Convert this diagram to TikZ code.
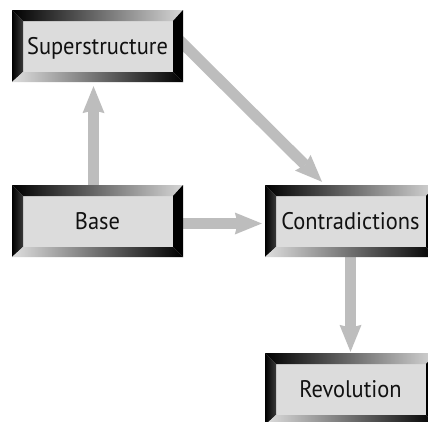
\documentclass[tikz,border=0pt]{standalone}
\usepackage{fontspec}
\newfontfamily\labelfont[FakeStretch=0.935]{PT Sans}
\usetikzlibrary{arrows.meta,calc,backgrounds}

\definecolor{boxface}{HTML}{DCDCDC}
\definecolor{flowgray}{HTML}{BDBDBD}
\definecolor{bevellight}{HTML}{D6D6D6}
\definecolor{bevelinner}{HTML}{3A3A3A}
\definecolor{labelink}{HTML}{111111}

\tikzset{
  % raised box with a shaded bevel frame
  bevelbox/.style={
    rectangle, minimum width=171pt, minimum height=72pt, inner sep=0pt,
    fill=boxface, text=labelink,
    font=\labelfont\fontsize{24}{28}\selectfont,
    text height=16.8pt, text depth=0pt,
    path picture={
      \coordinate (NW) at (path picture bounding box.north west);
      \coordinate (NE) at (path picture bounding box.north east);
      \coordinate (SE) at (path picture bounding box.south east);
      \coordinate (SW) at (path picture bounding box.south west);
      \coordinate (nw) at ($(NW)+(11pt,-11pt)$);
      \coordinate (ne) at ($(NE)+(-10pt,-11pt)$);
      \coordinate (se) at ($(SE)+(-10pt,10pt)$);
      \coordinate (sw) at ($(SW)+(11pt,10pt)$);
      \shade[left color=black, right color=bevellight]
        (NW) -- (NE) -- (ne) -- (nw) -- cycle;
      \shade[left color=black, right color=bevelinner]
        (NW) -- (nw) -- (sw) -- (SW) -- cycle;
      \fill[black] (NE) -- (SE) -- (se) -- (ne) -- cycle;
      \shade[left color=bevellight!80!white, right color=black]
        (SW) -- (sw) -- (se) -- (SE) -- cycle;
    }},
  flow/.style={
    draw=flowgray, line width=11pt,
    -{Stealth[length=27pt, width=22pt, inset=3pt, line width=0pt]}},
}

\begin{document}
\begin{tikzpicture}[x=1pt, y=-1pt]
  \useasboundingbox (0,0) rectangle (428,421);
  \clip (0,0) rectangle (428,421);

  \node[bevelbox] (super)  at (97.5,46)   {Superstructure};
  \node[bevelbox] (base)   at (97.5,221)  {Base};
  \node[bevelbox] (contra) at (350.5,221) {Contradictions};
  \node[bevelbox] (revo)   at (350.5,389) {Revolution};

  \begin{scope}[on background layer]
    \fill[white] (0,0) rectangle (428,421);
    \draw[flow] ([xshift=-4pt]base.north) -- ([xshift=-4pt,yshift=-4pt]super.south);
    \draw[flow] ([yshift=-2.5pt]base.east) -- ([xshift=-3pt,yshift=-2.5pt]contra.west);
    \draw[flow] ([xshift=-6pt,yshift=8pt]super.east) -- ([xshift=-28.5pt,yshift=3pt]contra.north);
    \draw[flow] (contra.south) -- ([yshift=1pt]revo.north);
  \end{scope}
\end{tikzpicture}
\end{document}
